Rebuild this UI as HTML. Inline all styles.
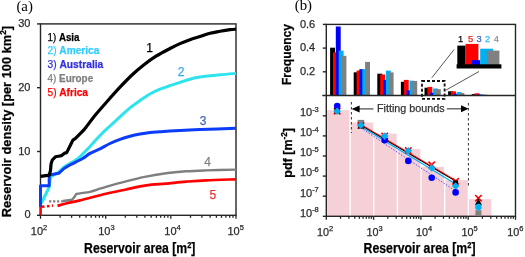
<!DOCTYPE html><html><head><meta charset="utf-8"><style>html,body{margin:0;padding:0;background:#fff;width:525px;height:257px;overflow:hidden}svg{display:block;will-change:transform}</style></head><body><svg width="525" height="257" viewBox="0 0 525 257"><rect x="40.5" y="23.9" width="195.5" height="191.4" fill="none" stroke="#262626" stroke-width="1.4"/>
<path d="M49.1 201.3 L63.1 201.3" fill="none" stroke="#808080" stroke-width="2.2" stroke-linejoin="round" stroke-linecap="butt" stroke-dasharray="2.2 1.8"/>
<path d="M63.00 201.00 L72.00 199.80 L74.00 197.50 L76.00 194.30 C77.00 193.62 77.67 193.82 80.00 193.40 C82.33 192.98 86.67 192.58 90.00 191.80 C93.33 191.02 97.33 189.53 100.00 188.70 C102.67 187.87 101.67 188.03 106.00 186.80 C110.33 185.57 119.33 183.00 126.00 181.30 C132.67 179.60 139.33 177.95 146.00 176.60 C152.67 175.25 159.33 174.08 166.00 173.20 C172.67 172.32 179.33 171.77 186.00 171.30 C192.67 170.83 197.67 170.68 206.00 170.40 C214.33 170.12 231.00 169.73 236.00 169.60" fill="none" stroke="#7f7f7f" stroke-width="2.4" stroke-linejoin="round" stroke-linecap="butt" />
<path d="M40.6 216.0 L40.6 206.5" fill="none" stroke="#ff0000" stroke-width="2.5" stroke-linejoin="round" stroke-linecap="butt" />
<path d="M42.0 206.8 L53.0 205.5" fill="none" stroke="#ff0000" stroke-width="2.6" stroke-linejoin="round" stroke-linecap="butt" stroke-dasharray="2.5 2.5"/>
<path d="M57.50 205.80 C58.92 205.42 62.25 204.40 66.00 203.50 C69.75 202.60 73.33 202.02 80.00 200.40 C86.67 198.78 98.33 195.62 106.00 193.80 C113.67 191.98 119.33 190.90 126.00 189.50 C132.67 188.10 139.33 186.38 146.00 185.40 C152.67 184.42 159.33 184.22 166.00 183.60 C172.67 182.98 179.33 182.25 186.00 181.70 C192.67 181.15 197.67 180.70 206.00 180.30 C214.33 179.90 231.00 179.47 236.00 179.30" fill="none" stroke="#ff0000" stroke-width="2.7" stroke-linejoin="round" stroke-linecap="butt" />
<path d="M41.50 203.00 L49.00 187.50 L50.50 177.00 L59.20 171.80 L63.60 167.40 C66.67 165.23 73.20 162.28 77.60 158.80 C82.00 155.32 86.27 150.38 90.00 146.50 C93.73 142.62 96.67 138.92 100.00 135.50 C103.33 132.08 106.67 129.12 110.00 126.00 C113.33 122.88 116.67 119.83 120.00 116.80 C123.33 113.77 126.67 110.52 130.00 107.80 C133.33 105.08 136.67 102.80 140.00 100.50 C143.33 98.20 146.67 95.88 150.00 94.00 C153.33 92.12 156.67 90.58 160.00 89.20 C163.33 87.82 166.67 86.83 170.00 85.70 C173.33 84.57 176.67 83.48 180.00 82.40 C183.33 81.32 186.67 80.08 190.00 79.20 C193.33 78.32 195.00 77.83 200.00 77.10 C205.00 76.37 214.00 75.42 220.00 74.80 C226.00 74.18 233.33 73.63 236.00 73.40" fill="none" stroke="#2ee4ec" stroke-width="3" stroke-linejoin="round" stroke-linecap="butt" />
<path d="M40.50 207.00 L40.50 185.80 L49.20 185.80 L49.20 175.00 L59.00 173.20 L64.00 168.50 L69.80 165.00 C72.83 163.38 78.83 160.73 82.20 158.80 C85.57 156.87 87.03 155.07 90.00 153.40 C92.97 151.73 96.67 150.45 100.00 148.80 C103.33 147.15 106.67 145.07 110.00 143.50 C113.33 141.93 116.67 140.60 120.00 139.40 C123.33 138.20 126.67 137.20 130.00 136.30 C133.33 135.40 136.67 134.65 140.00 134.00 C143.33 133.35 146.67 132.78 150.00 132.40 C153.33 132.02 156.67 131.93 160.00 131.70 C163.33 131.47 165.83 131.23 170.00 131.00 C174.17 130.77 180.00 130.53 185.00 130.30 C190.00 130.07 191.50 129.93 200.00 129.60 C208.50 129.27 230.00 128.52 236.00 128.30" fill="none" stroke="#0a3cfa" stroke-width="3" stroke-linejoin="round" stroke-linecap="butt" />
<path d="M40.60 176.40 L49.20 175.20 L50.50 170.50 L51.10 163.70 L52.30 160.00 L55.40 156.80 L58.50 156.20 L61.70 155.60 L64.80 153.10 L66.70 152.60 L70.60 144.80 L72.90 140.10 L75.20 138.60 L80.70 133.10 L83.80 130.00 C84.68 129.02 83.97 129.82 86.00 127.20 C88.03 124.58 92.33 118.75 96.00 114.30 C99.67 109.85 104.00 105.02 108.00 100.50 C112.00 95.98 116.00 91.45 120.00 87.20 C124.00 82.95 128.00 78.73 132.00 75.00 C136.00 71.27 140.00 67.93 144.00 64.80 C148.00 61.67 151.67 58.92 156.00 56.20 C160.33 53.48 166.00 50.60 170.00 48.50 C174.00 46.40 176.67 45.07 180.00 43.60 C183.33 42.13 186.67 40.87 190.00 39.70 C193.33 38.53 196.67 37.67 200.00 36.60 C203.33 35.53 206.67 34.18 210.00 33.30 C213.33 32.42 216.67 31.90 220.00 31.30 C223.33 30.70 227.33 30.05 230.00 29.70 C232.67 29.35 235.00 29.28 236.00 29.20" fill="none" stroke="#000000" stroke-width="3.2" stroke-linejoin="round" stroke-linecap="butt" />
<line x1="37.0" y1="215.3" x2="40.5" y2="215.3" stroke="#262626" stroke-width="1.4"/>
<line x1="37.0" y1="151.5" x2="40.5" y2="151.5" stroke="#262626" stroke-width="1.4"/>
<line x1="37.0" y1="87.7" x2="40.5" y2="87.7" stroke="#262626" stroke-width="1.4"/>
<line x1="37.0" y1="23.9" x2="40.5" y2="23.9" stroke="#262626" stroke-width="1.4"/>
<line x1="40.5" y1="215.3" x2="40.5" y2="218.8" stroke="#262626" stroke-width="1.3"/>
<line x1="60.1" y1="215.3" x2="60.1" y2="217.8" stroke="#262626" stroke-width="1.3"/>
<line x1="71.6" y1="215.3" x2="71.6" y2="217.8" stroke="#262626" stroke-width="1.3"/>
<line x1="79.7" y1="215.3" x2="79.7" y2="217.8" stroke="#262626" stroke-width="1.3"/>
<line x1="86.0" y1="215.3" x2="86.0" y2="217.8" stroke="#262626" stroke-width="1.3"/>
<line x1="91.2" y1="215.3" x2="91.2" y2="217.8" stroke="#262626" stroke-width="1.3"/>
<line x1="95.6" y1="215.3" x2="95.6" y2="217.8" stroke="#262626" stroke-width="1.3"/>
<line x1="99.4" y1="215.3" x2="99.4" y2="217.8" stroke="#262626" stroke-width="1.3"/>
<line x1="102.7" y1="215.3" x2="102.7" y2="217.8" stroke="#262626" stroke-width="1.3"/>
<line x1="105.7" y1="215.3" x2="105.7" y2="218.8" stroke="#262626" stroke-width="1.3"/>
<line x1="125.3" y1="215.3" x2="125.3" y2="217.8" stroke="#262626" stroke-width="1.3"/>
<line x1="136.8" y1="215.3" x2="136.8" y2="217.8" stroke="#262626" stroke-width="1.3"/>
<line x1="144.9" y1="215.3" x2="144.9" y2="217.8" stroke="#262626" stroke-width="1.3"/>
<line x1="151.2" y1="215.3" x2="151.2" y2="217.8" stroke="#262626" stroke-width="1.3"/>
<line x1="156.4" y1="215.3" x2="156.4" y2="217.8" stroke="#262626" stroke-width="1.3"/>
<line x1="160.7" y1="215.3" x2="160.7" y2="217.8" stroke="#262626" stroke-width="1.3"/>
<line x1="164.5" y1="215.3" x2="164.5" y2="217.8" stroke="#262626" stroke-width="1.3"/>
<line x1="167.9" y1="215.3" x2="167.9" y2="217.8" stroke="#262626" stroke-width="1.3"/>
<line x1="170.8" y1="215.3" x2="170.8" y2="218.8" stroke="#262626" stroke-width="1.3"/>
<line x1="190.5" y1="215.3" x2="190.5" y2="217.8" stroke="#262626" stroke-width="1.3"/>
<line x1="201.9" y1="215.3" x2="201.9" y2="217.8" stroke="#262626" stroke-width="1.3"/>
<line x1="210.1" y1="215.3" x2="210.1" y2="217.8" stroke="#262626" stroke-width="1.3"/>
<line x1="216.4" y1="215.3" x2="216.4" y2="217.8" stroke="#262626" stroke-width="1.3"/>
<line x1="221.5" y1="215.3" x2="221.5" y2="217.8" stroke="#262626" stroke-width="1.3"/>
<line x1="225.9" y1="215.3" x2="225.9" y2="217.8" stroke="#262626" stroke-width="1.3"/>
<line x1="229.7" y1="215.3" x2="229.7" y2="217.8" stroke="#262626" stroke-width="1.3"/>
<line x1="233.0" y1="215.3" x2="233.0" y2="217.8" stroke="#262626" stroke-width="1.3"/>
<line x1="236.0" y1="215.3" x2="236.0" y2="218.8" stroke="#262626" stroke-width="1.3"/>
<text x="30.5" y="218.4" font-size="11.0" text-anchor="end" fill="#2b2b2b" font-weight="normal" font-family="Liberation Sans, sans-serif"  stroke="#2b2b2b" stroke-width="0.25">0</text>
<text x="30.5" y="154.6" font-size="11.0" text-anchor="end" fill="#2b2b2b" font-weight="normal" font-family="Liberation Sans, sans-serif"  stroke="#2b2b2b" stroke-width="0.25">10</text>
<text x="30.5" y="90.8" font-size="11.0" text-anchor="end" fill="#2b2b2b" font-weight="normal" font-family="Liberation Sans, sans-serif"  stroke="#2b2b2b" stroke-width="0.25">20</text>
<text x="30.5" y="27.0" font-size="11.0" text-anchor="end" fill="#2b2b2b" font-weight="normal" font-family="Liberation Sans, sans-serif"  stroke="#2b2b2b" stroke-width="0.25">30</text>
<text x="39.0" y="234.6" font-size="11" text-anchor="middle" fill="#2b2b2b" font-family="Liberation Sans, sans-serif" stroke="#2b2b2b" stroke-width="0.25">10<tspan font-size="7.5" dy="-4.5">2</tspan></text>
<text x="106.4" y="234.6" font-size="11" text-anchor="middle" fill="#2b2b2b" font-family="Liberation Sans, sans-serif" stroke="#2b2b2b" stroke-width="0.25">10<tspan font-size="7.5" dy="-4.5">3</tspan></text>
<text x="172.5" y="234.6" font-size="11" text-anchor="middle" fill="#2b2b2b" font-family="Liberation Sans, sans-serif" stroke="#2b2b2b" stroke-width="0.25">10<tspan font-size="7.5" dy="-4.5">4</tspan></text>
<text x="235.7" y="234.6" font-size="11" text-anchor="middle" fill="#2b2b2b" font-family="Liberation Sans, sans-serif" stroke="#2b2b2b" stroke-width="0.25">10<tspan font-size="7.5" dy="-4.5">5</tspan></text>
<text x="84.1" y="253.1" font-size="14.0" text-anchor="start" fill="#000" font-weight="bold" font-family="Liberation Sans, sans-serif" textLength="111.3" lengthAdjust="spacingAndGlyphs"  stroke="#000" stroke-width="0.25">Reservoir area [m<tspan font-size="8.5" dy="-5">2</tspan><tspan dy="5">]</tspan></text>
<text transform="translate(11.1,217.3) rotate(-90)" x="0" y="0" font-size="13" font-weight="bold" fill="#000" textLength="191.4" lengthAdjust="spacingAndGlyphs" font-family="Liberation Sans, sans-serif" stroke="#000" stroke-width="0.25">Reservoir density [per 100 km<tspan font-size="8.5" dy="-5">2</tspan><tspan dy="5">]</tspan></text>
<text x="47.5" y="40.5" font-size="10.3" textLength="32.0" lengthAdjust="spacingAndGlyphs" font-family="Liberation Sans, sans-serif"><tspan fill="#000" stroke="#000" stroke-width="0.25">1) </tspan><tspan fill="#000000" font-weight="bold" stroke="#000000" stroke-width="0.25">Asia</tspan></text>
<text x="47.5" y="54.4" font-size="10.3" textLength="51.9" lengthAdjust="spacingAndGlyphs" font-family="Liberation Sans, sans-serif"><tspan fill="#33ccff" stroke="#33ccff" stroke-width="0.25">2) </tspan><tspan fill="#33ccff" font-weight="bold" stroke="#33ccff" stroke-width="0.25">America</tspan></text>
<text x="47.5" y="68.2" font-size="10.3" textLength="55.8" lengthAdjust="spacingAndGlyphs" font-family="Liberation Sans, sans-serif"><tspan fill="#3333dd" stroke="#3333dd" stroke-width="0.25">3) </tspan><tspan fill="#3333dd" font-weight="bold" stroke="#3333dd" stroke-width="0.25">Australia</tspan></text>
<text x="47.5" y="82.1" font-size="10.3" textLength="45.7" lengthAdjust="spacingAndGlyphs" font-family="Liberation Sans, sans-serif"><tspan fill="#808080" stroke="#808080" stroke-width="0.25">4) </tspan><tspan fill="#808080" font-weight="bold" stroke="#808080" stroke-width="0.25">Europe</tspan></text>
<text x="47.5" y="96.0" font-size="10.3" textLength="40.5" lengthAdjust="spacingAndGlyphs" font-family="Liberation Sans, sans-serif"><tspan fill="#ff0000" stroke="#ff0000" stroke-width="0.25">5) </tspan><tspan fill="#ff0000" font-weight="bold" stroke="#ff0000" stroke-width="0.25">Africa</tspan></text>
<text x="149.6" y="51.8" font-size="12.0" text-anchor="middle" fill="#000" font-weight="normal" font-family="Liberation Sans, sans-serif"  stroke="#000" stroke-width="0.25">1</text>
<text x="181.0" y="76.2" font-size="12.0" text-anchor="middle" fill="#3aa8f0" font-weight="normal" font-family="Liberation Sans, sans-serif"  stroke="#3aa8f0" stroke-width="0.25">2</text>
<text x="203.2" y="124.6" font-size="12.0" text-anchor="middle" fill="#4466bb" font-weight="normal" font-family="Liberation Sans, sans-serif"  stroke="#4466bb" stroke-width="0.25">3</text>
<text x="207.7" y="166.2" font-size="12.0" text-anchor="middle" fill="#808080" font-weight="normal" font-family="Liberation Sans, sans-serif"  stroke="#808080" stroke-width="0.25">4</text>
<text x="212.8" y="198.6" font-size="12.0" text-anchor="middle" fill="#ee3333" font-weight="normal" font-family="Liberation Sans, sans-serif"  stroke="#ee3333" stroke-width="0.25">5</text>
<text x="16.4" y="10.6" font-size="14.8" font-family="Liberation Serif, serif" fill="#000">(a)</text>
<rect x="327.1" y="110.2" width="22.3" height="106.1" fill="#f5d1d7"/>
<rect x="350.8" y="122.5" width="22.3" height="93.8" fill="#f5d1d7"/>
<rect x="374.4" y="133.7" width="22.3" height="82.6" fill="#f5d1d7"/>
<rect x="398.1" y="149.0" width="22.3" height="67.3" fill="#f5d1d7"/>
<rect x="421.7" y="166.8" width="22.3" height="49.5" fill="#f5d1d7"/>
<rect x="445.4" y="180.0" width="22.3" height="36.3" fill="#f5d1d7"/>
<rect x="469.0" y="199.2" width="22.3" height="17.1" fill="#f5d1d7"/>
<rect x="330.1" y="47.7" width="4.9" height="47.8" fill="#000000"/>
<rect x="333.0" y="52.4" width="4.9" height="43.1" fill="#ff0000"/>
<rect x="335.8" y="26.5" width="4.9" height="69.0" fill="#0000ff"/>
<rect x="338.7" y="50.7" width="4.9" height="44.8" fill="#00b0f0"/>
<rect x="341.5" y="55.8" width="4.9" height="39.7" fill="#808080"/>
<rect x="353.7" y="72.3" width="4.9" height="23.2" fill="#000000"/>
<rect x="356.6" y="70.5" width="4.9" height="25.0" fill="#ff0000"/>
<rect x="359.4" y="69.2" width="4.9" height="26.3" fill="#0000ff"/>
<rect x="362.3" y="69.2" width="4.9" height="26.3" fill="#00b0f0"/>
<rect x="365.1" y="61.9" width="4.9" height="33.6" fill="#808080"/>
<rect x="377.3" y="73.7" width="4.9" height="21.8" fill="#000000"/>
<rect x="380.2" y="74.5" width="4.9" height="21.0" fill="#ff0000"/>
<rect x="383.0" y="80.0" width="4.9" height="15.5" fill="#0000ff"/>
<rect x="385.9" y="70.6" width="4.9" height="24.9" fill="#00b0f0"/>
<rect x="388.7" y="72.4" width="4.9" height="23.1" fill="#808080"/>
<rect x="400.9" y="81.8" width="4.9" height="13.7" fill="#000000"/>
<rect x="403.8" y="79.9" width="4.9" height="15.6" fill="#ff0000"/>
<rect x="406.6" y="90.3" width="4.9" height="5.2" fill="#0000ff"/>
<rect x="409.5" y="80.7" width="4.9" height="14.8" fill="#00b0f0"/>
<rect x="412.3" y="81.0" width="4.9" height="14.5" fill="#808080"/>
<rect x="424.5" y="87.7" width="4.9" height="7.8" fill="#000000"/>
<rect x="427.4" y="86.9" width="4.9" height="8.6" fill="#ff0000"/>
<rect x="430.2" y="92.7" width="4.9" height="2.8" fill="#0000ff"/>
<rect x="433.1" y="88.5" width="4.9" height="7.0" fill="#00b0f0"/>
<rect x="435.9" y="89.2" width="4.9" height="6.3" fill="#808080"/>
<rect x="448.1" y="91.3" width="4.9" height="4.2" fill="#000000"/>
<rect x="451.0" y="91.3" width="4.9" height="4.2" fill="#ff0000"/>
<rect x="453.8" y="93.8" width="4.9" height="1.7" fill="#0000ff"/>
<rect x="456.7" y="92.1" width="4.9" height="3.4" fill="#00b0f0"/>
<rect x="459.5" y="93.0" width="4.9" height="2.5" fill="#808080"/>
<rect x="471.7" y="94.1" width="4.9" height="1.4" fill="#000000"/>
<rect x="474.6" y="93.3" width="4.9" height="2.2" fill="#ff0000"/>
<rect x="477.4" y="94.5" width="4.9" height="1.0" fill="#0000ff"/>
<rect x="480.3" y="94.5" width="4.9" height="1.0" fill="#00b0f0"/>
<rect x="483.1" y="94.8" width="4.9" height="0.7" fill="#808080"/>
<rect x="326.3" y="24.4" width="189.2" height="191.9" fill="none" stroke="#262626" stroke-width="1.4"/>
<line x1="322.3" y1="95.5" x2="515.5" y2="95.5" stroke="#262626" stroke-width="1.4"/>
<line x1="322.8" y1="71.8" x2="326.3" y2="71.8" stroke="#262626" stroke-width="1.4"/>
<text x="315.2" y="75.1" font-size="11.0" text-anchor="end" fill="#2b2b2b" font-weight="normal" font-family="Liberation Sans, sans-serif"  stroke="#2b2b2b" stroke-width="0.25">0.2</text>
<line x1="322.8" y1="48.1" x2="326.3" y2="48.1" stroke="#262626" stroke-width="1.4"/>
<text x="315.2" y="51.4" font-size="11.0" text-anchor="end" fill="#2b2b2b" font-weight="normal" font-family="Liberation Sans, sans-serif"  stroke="#2b2b2b" stroke-width="0.25">0.4</text>
<line x1="322.8" y1="24.4" x2="326.3" y2="24.4" stroke="#262626" stroke-width="1.4"/>
<text x="315.2" y="27.7" font-size="11.0" text-anchor="end" fill="#2b2b2b" font-weight="normal" font-family="Liberation Sans, sans-serif"  stroke="#2b2b2b" stroke-width="0.25">0.6</text>
<line x1="322.8" y1="216.3" x2="326.3" y2="216.3" stroke="#262626" stroke-width="1.4"/>
<text x="318.8" y="216.6" font-size="11" text-anchor="end" fill="#2b2b2b" font-family="Liberation Sans, sans-serif" stroke="#2b2b2b" stroke-width="0.25">10<tspan font-size="7.5" dy="-4.5">-8</tspan></text>
<line x1="322.8" y1="196.2" x2="326.3" y2="196.2" stroke="#262626" stroke-width="1.4"/>
<text x="318.8" y="196.5" font-size="11" text-anchor="end" fill="#2b2b2b" font-family="Liberation Sans, sans-serif" stroke="#2b2b2b" stroke-width="0.25">10<tspan font-size="7.5" dy="-4.5">-7</tspan></text>
<line x1="322.8" y1="176.1" x2="326.3" y2="176.1" stroke="#262626" stroke-width="1.4"/>
<text x="318.8" y="176.4" font-size="11" text-anchor="end" fill="#2b2b2b" font-family="Liberation Sans, sans-serif" stroke="#2b2b2b" stroke-width="0.25">10<tspan font-size="7.5" dy="-4.5">-6</tspan></text>
<line x1="322.8" y1="156.0" x2="326.3" y2="156.0" stroke="#262626" stroke-width="1.4"/>
<text x="318.8" y="156.3" font-size="11" text-anchor="end" fill="#2b2b2b" font-family="Liberation Sans, sans-serif" stroke="#2b2b2b" stroke-width="0.25">10<tspan font-size="7.5" dy="-4.5">-5</tspan></text>
<line x1="322.8" y1="135.9" x2="326.3" y2="135.9" stroke="#262626" stroke-width="1.4"/>
<text x="318.8" y="136.2" font-size="11" text-anchor="end" fill="#2b2b2b" font-family="Liberation Sans, sans-serif" stroke="#2b2b2b" stroke-width="0.25">10<tspan font-size="7.5" dy="-4.5">-4</tspan></text>
<line x1="322.8" y1="115.8" x2="326.3" y2="115.8" stroke="#262626" stroke-width="1.4"/>
<text x="318.8" y="116.1" font-size="11" text-anchor="end" fill="#2b2b2b" font-family="Liberation Sans, sans-serif" stroke="#2b2b2b" stroke-width="0.25">10<tspan font-size="7.5" dy="-4.5">-3</tspan></text>
<line x1="326.3" y1="216.3" x2="326.3" y2="219.8" stroke="#262626" stroke-width="1.3"/>
<line x1="340.5" y1="216.3" x2="340.5" y2="218.8" stroke="#262626" stroke-width="1.3"/>
<line x1="348.9" y1="216.3" x2="348.9" y2="218.8" stroke="#262626" stroke-width="1.3"/>
<line x1="354.8" y1="216.3" x2="354.8" y2="218.8" stroke="#262626" stroke-width="1.3"/>
<line x1="359.4" y1="216.3" x2="359.4" y2="218.8" stroke="#262626" stroke-width="1.3"/>
<line x1="363.1" y1="216.3" x2="363.1" y2="218.8" stroke="#262626" stroke-width="1.3"/>
<line x1="366.3" y1="216.3" x2="366.3" y2="218.8" stroke="#262626" stroke-width="1.3"/>
<line x1="369.0" y1="216.3" x2="369.0" y2="218.8" stroke="#262626" stroke-width="1.3"/>
<line x1="371.4" y1="216.3" x2="371.4" y2="218.8" stroke="#262626" stroke-width="1.3"/>
<line x1="373.6" y1="216.3" x2="373.6" y2="219.8" stroke="#262626" stroke-width="1.3"/>
<line x1="387.8" y1="216.3" x2="387.8" y2="218.8" stroke="#262626" stroke-width="1.3"/>
<line x1="396.2" y1="216.3" x2="396.2" y2="218.8" stroke="#262626" stroke-width="1.3"/>
<line x1="402.1" y1="216.3" x2="402.1" y2="218.8" stroke="#262626" stroke-width="1.3"/>
<line x1="406.7" y1="216.3" x2="406.7" y2="218.8" stroke="#262626" stroke-width="1.3"/>
<line x1="410.4" y1="216.3" x2="410.4" y2="218.8" stroke="#262626" stroke-width="1.3"/>
<line x1="413.6" y1="216.3" x2="413.6" y2="218.8" stroke="#262626" stroke-width="1.3"/>
<line x1="416.3" y1="216.3" x2="416.3" y2="218.8" stroke="#262626" stroke-width="1.3"/>
<line x1="418.7" y1="216.3" x2="418.7" y2="218.8" stroke="#262626" stroke-width="1.3"/>
<line x1="420.9" y1="216.3" x2="420.9" y2="219.8" stroke="#262626" stroke-width="1.3"/>
<line x1="435.1" y1="216.3" x2="435.1" y2="218.8" stroke="#262626" stroke-width="1.3"/>
<line x1="443.5" y1="216.3" x2="443.5" y2="218.8" stroke="#262626" stroke-width="1.3"/>
<line x1="449.4" y1="216.3" x2="449.4" y2="218.8" stroke="#262626" stroke-width="1.3"/>
<line x1="454.0" y1="216.3" x2="454.0" y2="218.8" stroke="#262626" stroke-width="1.3"/>
<line x1="457.7" y1="216.3" x2="457.7" y2="218.8" stroke="#262626" stroke-width="1.3"/>
<line x1="460.9" y1="216.3" x2="460.9" y2="218.8" stroke="#262626" stroke-width="1.3"/>
<line x1="463.6" y1="216.3" x2="463.6" y2="218.8" stroke="#262626" stroke-width="1.3"/>
<line x1="466.0" y1="216.3" x2="466.0" y2="218.8" stroke="#262626" stroke-width="1.3"/>
<line x1="468.2" y1="216.3" x2="468.2" y2="219.8" stroke="#262626" stroke-width="1.3"/>
<line x1="482.4" y1="216.3" x2="482.4" y2="218.8" stroke="#262626" stroke-width="1.3"/>
<line x1="490.8" y1="216.3" x2="490.8" y2="218.8" stroke="#262626" stroke-width="1.3"/>
<line x1="496.7" y1="216.3" x2="496.7" y2="218.8" stroke="#262626" stroke-width="1.3"/>
<line x1="501.3" y1="216.3" x2="501.3" y2="218.8" stroke="#262626" stroke-width="1.3"/>
<line x1="505.0" y1="216.3" x2="505.0" y2="218.8" stroke="#262626" stroke-width="1.3"/>
<line x1="508.2" y1="216.3" x2="508.2" y2="218.8" stroke="#262626" stroke-width="1.3"/>
<line x1="510.9" y1="216.3" x2="510.9" y2="218.8" stroke="#262626" stroke-width="1.3"/>
<line x1="513.3" y1="216.3" x2="513.3" y2="218.8" stroke="#262626" stroke-width="1.3"/>
<line x1="515.5" y1="216.3" x2="515.5" y2="219.8" stroke="#262626" stroke-width="1.3"/>
<text x="325.2" y="235.6" font-size="10.8" text-anchor="middle" fill="#2b2b2b" font-family="Liberation Sans, sans-serif" stroke="#2b2b2b" stroke-width="0.25">10<tspan font-size="7.5" dy="-4.5">2</tspan></text>
<text x="374.7" y="235.6" font-size="10.8" text-anchor="middle" fill="#2b2b2b" font-family="Liberation Sans, sans-serif" stroke="#2b2b2b" stroke-width="0.25">10<tspan font-size="7.5" dy="-4.5">3</tspan></text>
<text x="424.2" y="235.6" font-size="10.8" text-anchor="middle" fill="#2b2b2b" font-family="Liberation Sans, sans-serif" stroke="#2b2b2b" stroke-width="0.25">10<tspan font-size="7.5" dy="-4.5">4</tspan></text>
<text x="469.7" y="235.6" font-size="10.8" text-anchor="middle" fill="#2b2b2b" font-family="Liberation Sans, sans-serif" stroke="#2b2b2b" stroke-width="0.25">10<tspan font-size="7.5" dy="-4.5">5</tspan></text>
<text x="515.3" y="235.6" font-size="10.8" text-anchor="middle" fill="#2b2b2b" font-family="Liberation Sans, sans-serif" stroke="#2b2b2b" stroke-width="0.25">10<tspan font-size="7.5" dy="-4.5">6</tspan></text>
<text x="363.6" y="252.7" font-size="14.0" text-anchor="start" fill="#000" font-weight="bold" font-family="Liberation Sans, sans-serif" textLength="111.9" lengthAdjust="spacingAndGlyphs"  stroke="#000" stroke-width="0.25">Reservoir area [m<tspan font-size="8.5" dy="-5">2</tspan><tspan dy="5">]</tspan></text>
<text transform="translate(290.6,85) rotate(-90)" font-size="13" font-weight="bold" fill="#000" textLength="61" lengthAdjust="spacingAndGlyphs" font-family="Liberation Sans, sans-serif" stroke="#000" stroke-width="0.25">Frequency</text>
<text transform="translate(292.3,177.7) rotate(-90)" font-size="13" font-weight="bold" fill="#000" textLength="49.7" lengthAdjust="spacingAndGlyphs" font-family="Liberation Sans, sans-serif" stroke="#000" stroke-width="0.25">pdf [m<tspan font-size="8.5" dy="-5">-2</tspan><tspan dy="5">]</tspan></text>
<text x="294.8" y="10.1" font-size="14.8" font-family="Liberation Serif, serif" fill="#000">(b)</text>
<line x1="351.4" y1="102" x2="351.4" y2="133" stroke="#333" stroke-width="1" stroke-dasharray="2.5 2.5"/>
<line x1="468.4" y1="103" x2="468.4" y2="187" stroke="#333" stroke-width="1" stroke-dasharray="2.5 2.5"/>
<line x1="358" y1="108.9" x2="373.5" y2="108.9" stroke="#555" stroke-width="1.3"/>
<path d="M351.6 108.9 L359.6 105.4 L359.6 112.4 Z" fill="#000"/>
<line x1="446.9" y1="108.8" x2="462" y2="108.8" stroke="#555" stroke-width="1.3"/>
<path d="M468.6 108.8 L461 105.3 L461 112.3 Z" fill="#000"/>
<text x="377.0" y="111.9" font-size="10.4" text-anchor="start" fill="#333" font-weight="normal" font-family="Liberation Sans, sans-serif" textLength="67.6" lengthAdjust="spacingAndGlyphs"  stroke="#333" stroke-width="0.25">Fitting bounds</text>
<line x1="361" y1="125.2" x2="455.6" y2="181" stroke="#000" stroke-width="1.2"/>
<line x1="361" y1="126.5" x2="455.6" y2="184" stroke="#00b0f0" stroke-width="1.2"/>
<line x1="361" y1="124.5" x2="455.6" y2="180.2" stroke="#ff0000" stroke-width="0.9"/>
<line x1="361" y1="128" x2="455.6" y2="191" stroke="#5555ee" stroke-width="1" stroke-dasharray="1.5 1.5"/>
<path d="M334.0 108.0 L340.4 114.4 M334.0 114.4 L340.4 108.0" stroke="#ff0000" stroke-width="1.6"/>
<rect x="334.4" y="107.7" width="5.6" height="5.6" fill="#000"/>
<circle cx="337.2" cy="106.0" r="3.3" fill="#0000ff"/>
<path d="M337.2 107.4 L341.0 111.2 L337.2 115.0 L333.4 111.2 Z" fill="#00b0f0"/>
<rect x="357.6" y="119.9" width="6.6" height="6.6" fill="#808080"/>
<path d="M357.7 122.3 L364.1 128.7 M357.7 128.7 L364.1 122.3" stroke="#ff0000" stroke-width="1.6"/>
<rect x="358.3" y="123.4" width="5.2" height="5.2" fill="#000"/>
<path d="M360.9 121.5 L364.7 125.3 L360.9 129.1 L357.1 125.3 Z" fill="#00b0f0"/>
<path d="M381.5 132.8 L387.9 139.2 M381.5 139.2 L387.9 132.8" stroke="#ff0000" stroke-width="1.6"/>
<circle cx="384.7" cy="140.3" r="3.3" fill="#0000ff"/>
<path d="M384.7 132.3 L388.5 136.1 L384.7 139.9 L380.9 136.1 Z" fill="#00b0f0"/>
<path d="M405.1 147.4 L411.5 153.8 M405.1 153.8 L411.5 147.4" stroke="#ff0000" stroke-width="1.6"/>
<path d="M408.3 147.0 L412.1 150.8 L408.3 154.6 L404.5 150.8 Z" fill="#00b0f0"/>
<circle cx="408.3" cy="160.9" r="3.3" fill="#0000ff"/>
<path d="M428.5 161.6 L434.9 168.0 M428.5 168.0 L434.9 161.6" stroke="#ff0000" stroke-width="1.6"/>
<path d="M431.7 164.1 L435.5 167.9 L431.7 171.7 L427.9 167.9 Z" fill="#00b0f0"/>
<circle cx="431.7" cy="177.7" r="3.3" fill="#0000ff"/>
<path d="M452.4 178.1 L458.8 184.5 M452.4 184.5 L458.8 178.1" stroke="#ff0000" stroke-width="1.6"/>
<rect x="453.1" y="180.5" width="5.0" height="5.0" fill="#000"/>
<path d="M455.6 182.2 L459.4 186.0 L455.6 189.8 L451.8 186.0 Z" fill="#00b0f0"/>
<circle cx="455.6" cy="192.4" r="3.3" fill="#0000ff"/>
<path d="M475.2 195.0 L481.6 201.4 M475.2 201.4 L481.6 195.0" stroke="#ff0000" stroke-width="1.6"/>
<path d="M478.4 198.6 L481.9 204.9 L474.9 204.9 Z" fill="#000"/>
<rect x="475.4" y="210.2" width="6.0" height="6.0" fill="#808080"/>
<circle cx="478.4" cy="207.0" r="3.3" fill="#00b0f0"/>
<rect x="422.0" y="81.0" width="22.6" height="17.8" fill="none" stroke="#111" stroke-width="1.8" stroke-dasharray="3 2"/>
<line x1="431.8" y1="77.8" x2="454" y2="49.6" stroke="#555" stroke-width="1"/>
<line x1="445.8" y1="90.2" x2="479" y2="71.5" stroke="#555" stroke-width="1"/>
<rect x="457.3" y="45.6" width="8.3" height="19.4" fill="#000"/>
<rect x="465.6" y="43.9" width="12.8" height="21.1" fill="#ff0000"/>
<rect x="471.8" y="60.2" width="8.4" height="4.8" fill="#0000ff"/>
<rect x="480.2" y="48.7" width="13.0" height="16.3" fill="#00b0f0"/>
<rect x="486.9" y="50.6" width="12.5" height="14.4" fill="#808080"/>
<rect x="456.6" y="64.3" width="44.8" height="4.2" fill="#000"/>
<text x="460.5" y="41.6" font-size="9.3" text-anchor="middle" fill="#000" font-weight="normal" font-family="Liberation Sans, sans-serif"  stroke="#000" stroke-width="0.25">1</text>
<text x="470.6" y="41.6" font-size="9.3" text-anchor="middle" fill="#ee2222" font-weight="normal" font-family="Liberation Sans, sans-serif"  stroke="#ee2222" stroke-width="0.25">5</text>
<text x="479.1" y="41.6" font-size="9.3" text-anchor="middle" fill="#4466bb" font-weight="normal" font-family="Liberation Sans, sans-serif"  stroke="#4466bb" stroke-width="0.25">3</text>
<text x="487.7" y="41.6" font-size="9.3" text-anchor="middle" fill="#33bbee" font-weight="normal" font-family="Liberation Sans, sans-serif"  stroke="#33bbee" stroke-width="0.25">2</text>
<text x="496.3" y="41.6" font-size="9.3" text-anchor="middle" fill="#909090" font-weight="normal" font-family="Liberation Sans, sans-serif"  stroke="#909090" stroke-width="0.25">4</text></svg></body></html>
